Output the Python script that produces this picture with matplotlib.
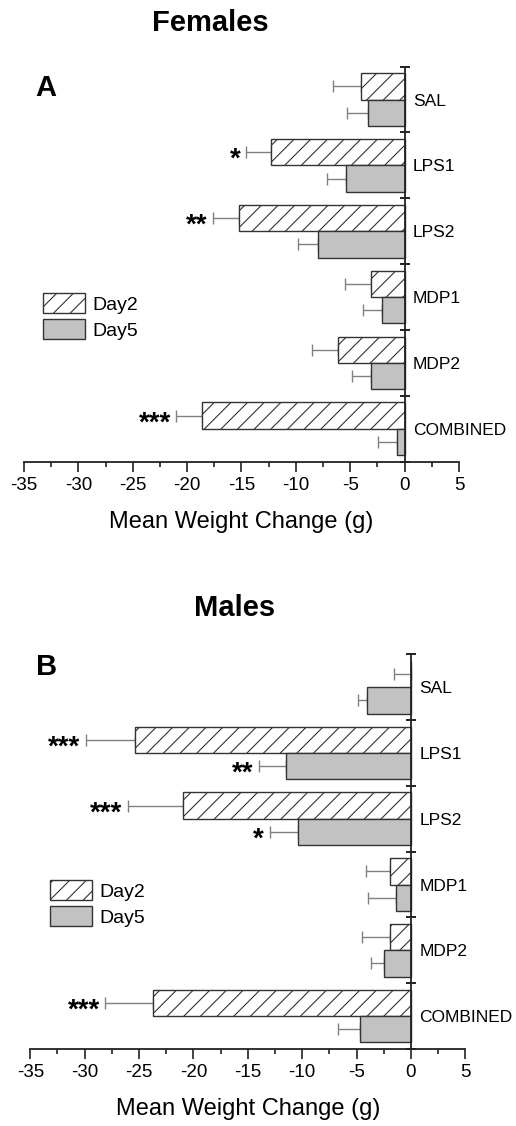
import matplotlib
matplotlib.use('Agg')
import matplotlib.pyplot as plt
import numpy as np

plt.rcParams['font.family'] = ['Liberation Sans', 'DejaVu Sans']
plt.rcParams['hatch.linewidth'] = 0.8

groups = ['SAL', 'LPS1', 'LPS2', 'MDP1', 'MDP2', 'COMBINED']

# mean weight change (g) and SEM, females
fem_day2 = [-4.0, -12.3, -15.2, -3.1, -6.1, -18.6]
fem_day2_err = [2.6, 2.3, 2.4, 2.4, 2.4, 2.4]
fem_day5 = [-3.4, -5.4, -8.0, -2.1, -3.1, -0.7]
fem_day5_err = [1.9, 1.75, 1.8, 1.7, 1.75, 1.75]
fem_sig2 = ['', '*', '**', '', '', '***']
fem_sig5 = ['', '', '', '', '', '']

# males
mal_day2 = [0.0, -25.4, -21.0, -1.9, -1.9, -23.7]
mal_day2_err = [1.6, 4.5, 5.0, 2.2, 2.6, 4.4]
mal_day5 = [-4.0, -11.5, -10.4, -1.4, -2.5, -4.7]
mal_day5_err = [0.9, 2.5, 2.6, 2.5, 1.2, 2.0]
mal_sig2 = ['', '***', '***', '', '', '***']
mal_sig5 = ['', '**', '*', '', '', '']

xticks = [-35, -30, -25, -20, -15, -10, -5, 0, 5]

fig = plt.figure(figsize=(5.16, 11.26), dpi=100)
axA = fig.add_axes([0.0465, 0.590, 0.843, 0.3508])
axB = fig.add_axes([0.0587, 0.0684, 0.843, 0.3505])

EDGE = '#333333'
ERRC = '#808080'


def panel(ax, d2, e2, d5, e5, s2, s5, leg_xy):
    y = np.arange(len(groups))
    h = 0.4
    b2 = ax.barh(y - h / 2, d2, height=h, color='white', edgecolor=EDGE,
                 hatch='//', linewidth=1.0, label='Day2', zorder=2)
    b5 = ax.barh(y + h / 2, d5, height=h, color='#c2c2c2', edgecolor=EDGE,
                 linewidth=1.0, label='Day5', zorder=2)
    z = np.zeros(len(groups))
    ax.errorbar(d2, y - h / 2, xerr=[e2, z], fmt='none', ecolor=ERRC,
                elinewidth=1.0, capsize=4.3, capthick=1.0, zorder=1)
    ax.errorbar(d5, y + h / 2, xerr=[e5, z], fmt='none', ecolor=ERRC,
                elinewidth=1.0, capsize=4.3, capthick=1.0, zorder=1)
    for i in range(len(groups)):
        for v, e, s, off in ((d2[i], e2[i], s2[i], -h / 2), (d5[i], e5[i], s5[i], h / 2)):
            if s:
                ax.annotate(s, (v - e, y[i] + off), xytext=(-4, -5.5),
                            textcoords='offset points', ha='right', va='center',
                            fontsize=20, fontweight='bold', color='black')

    ax.set_xlim(-35, 5)
    ax.set_ylim(len(groups) - 0.5, -0.5)

    for sp in ['left', 'top']:
        ax.spines[sp].set_visible(False)
    ax.spines['right'].set_position(('data', 0))
    ax.spines['right'].set_linewidth(1.3)
    ax.spines['bottom'].set_linewidth(1.3)
    ax.spines['right'].set_color('#222222')
    ax.spines['bottom'].set_color('#222222')

    ax.yaxis.tick_right()
    ax.set_yticks(y)
    ax.set_yticklabels(groups, fontsize=12.5)
    ax.set_yticks(np.arange(len(groups) + 1) - 0.5, minor=True)
    ax.tick_params(axis='y', which='major', length=0, pad=6)
    ax.tick_params(axis='y', which='minor', length=7, width=1.4, direction='inout',
                   color='#222222')

    ax.set_xticks(xticks)
    ax.set_xticklabels([str(t) for t in xticks], fontsize=13.5)
    ax.set_xticks(np.arange(-32.5, 5, 5), minor=True)
    ax.tick_params(axis='x', which='major', length=7, width=1.2, pad=4, color='#222222')
    ax.tick_params(axis='x', which='minor', length=3.5, width=1.2, color='#222222')
    ax.set_xlabel('Mean Weight Change (g)', fontsize=17, labelpad=12)

    fig.legend(handles=[b2, b5], loc='upper left', bbox_to_anchor=leg_xy,
               frameon=False, fontsize=14, handlelength=2.15, handleheight=1.2,
               labelspacing=0.3, handletextpad=0.4, borderpad=0, borderaxespad=0)


panel(axA, fem_day2, fem_day2_err, fem_day5, fem_day5_err, fem_sig2, fem_sig5,
      (43 / 516, 1 - 293 / 1126))
panel(axB, mal_day2, mal_day2_err, mal_day5, mal_day5_err, mal_sig2, mal_sig5,
      (50 / 516, 1 - 880 / 1126))

fig.text(210 / 516, 1 - 23 / 1126, 'Females', ha='center', va='center',
         fontsize=21, fontweight='bold')
fig.text(235 / 516, 1 - 608 / 1126, 'Males', ha='center', va='center',
         fontsize=21, fontweight='bold')
fig.text(46 / 516, 1 - 88 / 1126, 'A', ha='center', va='center',
         fontsize=21, fontweight='bold')
fig.text(47 / 516, 1 - 667 / 1126, 'B', ha='center', va='center',
         fontsize=21, fontweight='bold')

fig.savefig('out.png', dpi=100)
